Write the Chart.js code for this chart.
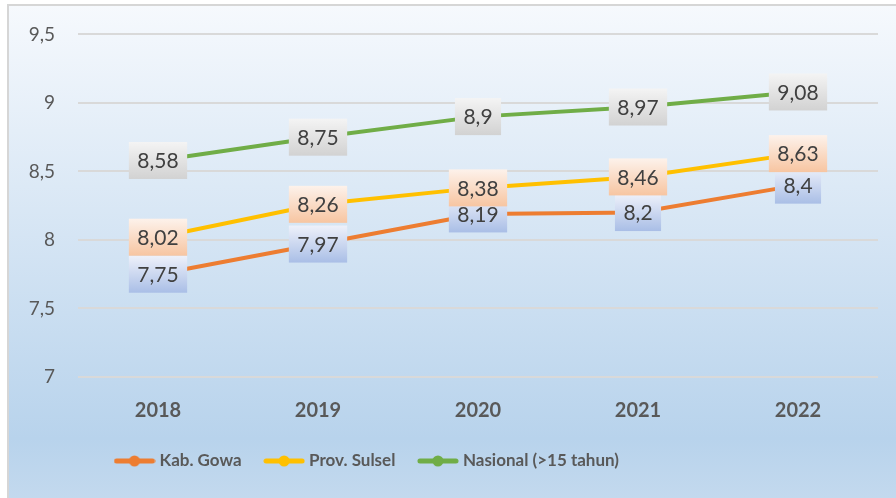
<!DOCTYPE html>
<html>
<head>
<meta charset="utf-8">
<script src="https://cdn.jsdelivr.net/npm/chart.js@4"></script>
<style>
    body { margin: 0; background: #fff; }
    #wrap { width: 896px; height: 498px; }
</style>
</head>
<body>
<div id="wrap"><canvas id="chart"></canvas></div>
<script>
const years = ['2018', '2019', '2020', '2021', '2022'];
const kabGowa = [7.75, 7.97, 8.19, 8.2, 8.4];
const provSulsel = [8.02, 8.26, 8.38, 8.46, 8.63];
const nasional = [8.58, 8.75, 8.9, 8.97, 9.08];
const seriesNames = ['Kab. Gowa', 'Prov. Sulsel', 'Nasional (>15 tahun)'];
const yTicks = [7, 7.5, 8, 8.5, 9, 9.5];

const lineColors = ['#ed7d31', '#ffc000', '#70ad47'];
// Verlauf der Beschriftungskästen (oben, unten)
const boxTop = ['#eef1fa', '#fdf2eb', '#f4f4f4'];
const boxBottom = ['#a9bee6', '#f7c5a1', '#d2d2d2'];

const fmt = v => String(v).replace('.', ',');

function legendIcon(color) {
    const c = document.createElement('canvas');
    c.width = 42;
    c.height = 12;
    const g = c.getContext('2d');
    g.strokeStyle = color;
    g.lineWidth = 5;
    g.lineCap = 'round';
    g.beginPath();
    g.moveTo(3, 6);
    g.lineTo(39, 6);
    g.stroke();
    g.fillStyle = color;
    g.beginPath();
    g.arc(21, 6, 5.5, 0, Math.PI * 2);
    g.fill();
    return c;
}
const icons = lineColors.map(legendIcon);

// Hintergrund mit Verlauf und grauem Rahmen
const background = {
    id: 'background',
    beforeDraw(chart) {
        const ctx = chart.ctx;
        ctx.save();
        ctx.fillStyle = '#ffffff';
        ctx.fillRect(0, 0, chart.width, chart.height);
        const g = ctx.createLinearGradient(0, 5, 0, chart.height);
        g.addColorStop(0, '#f6f9fd');
        g.addColorStop(0.88, '#b8d3ec');
        g.addColorStop(1, '#c3d9ee');
        ctx.fillStyle = g;
        ctx.fillRect(8, 5, chart.width, chart.height);
        ctx.strokeStyle = '#d6d6d6';
        ctx.lineWidth = 2;
        ctx.strokeRect(8, 5, chart.width + 10, chart.height + 10);
        ctx.restore();
    }
};

// Datenbeschriftungen als Kästen mit Verlauf
const valueBoxes = {
    id: 'valueBoxes',
    afterDatasetsDraw(chart) {
        const ctx = chart.ctx;
        ctx.save();
        ctx.font = '21px Lato';
        ctx.textAlign = 'center';
        ctx.textBaseline = 'middle';
        chart.data.datasets.forEach((ds, i) => {
            chart.getDatasetMeta(i).data.forEach((pt, j) => {
                const text = fmt(ds.data[j]);
                const w = ctx.measureText(text).width + 17;
                const h = 37;
                const x = pt.x - w / 2;
                const y = pt.y - h / 2;
                const g = ctx.createLinearGradient(0, y, 0, y + h);
                g.addColorStop(0, boxTop[i]);
                g.addColorStop(1, boxBottom[i]);
                ctx.fillStyle = g;
                ctx.fillRect(x, y, w, h);
                ctx.fillStyle = '#404040';
                ctx.fillText(text, pt.x, pt.y + 1);
            });
        });
        ctx.restore();
    }
};

// Legende etwas nach links schieben
const legendShift = {
    id: 'legendShift',
    afterLayout(chart) {
        chart.legend.left = 118 - 26;
    }
};

Chart.defaults.font.family = 'Lato';
Chart.defaults.color = '#595959';

const ctx = document.getElementById('chart').getContext('2d');
const chart = new Chart(ctx, {
    type: 'line',
    data: {
        labels: years,
        datasets: [kabGowa, provSulsel, nasional].map((data, i) => ({
            label: seriesNames[i],
            data: data,
            borderColor: lineColors[i],
            backgroundColor: lineColors[i],
            borderWidth: 4,
            pointRadius: 0,
            tension: 0
        }))
    },
    options: {
        responsive: true,
        maintainAspectRatio: false,
        animation: false,
        layout: { padding: { top: 34, right: 18, bottom: 18.5, left: 0 } },
        scales: {
            x: {
                offset: true,
                grid: { display: false },
                border: { display: false },
                ticks: { font: { size: 20, weight: 'bold' }, padding: 14 },
                afterFit: scale => { scale.height = 49.5; }
            },
            y: {
                min: 7,
                max: 9.5,
                afterBuildTicks: scale => { scale.ticks = yTicks.map(v => ({ value: v })); },
                grid: { color: '#d9d9d9', lineWidth: 2, drawTicks: false },
                border: { display: false },
                ticks: { font: { size: 19 }, padding: 23, callback: v => fmt(v) },
                afterFit: scale => { scale.width = 78; }
            }
        },
        plugins: {
            tooltip: { enabled: false },
            legend: {
                position: 'bottom',
                align: 'start',
                labels: {
                    usePointStyle: true,
                    pointStyleWidth: 33,
                    padding: 26,
                    color: '#595959',
                    font: { size: 17, weight: 'bold' },
                    generateLabels: c => Chart.defaults.plugins.legend.labels.generateLabels(c).map((item, i) => {
                        item.pointStyle = icons[i];
                        return item;
                    })
                }
            }
        }
    },
    plugins: [background, valueBoxes, legendShift]
});
</script>
</body>
</html>
